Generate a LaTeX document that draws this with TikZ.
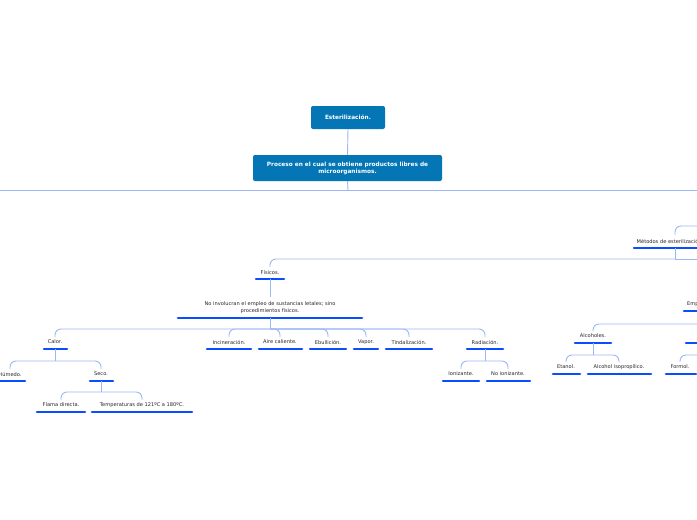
\documentclass[tikz,border=0pt]{standalone}
\usepackage{fontspec}
\setmainfont{DejaVu Sans}
\begin{document}
\begin{tikzpicture}[x=1pt,y=-1pt,
  conn/.style={draw=cl,line width=0.9pt,rounded corners=6pt},
  ul/.style={draw=ub,line width=2.6pt,line cap=round},
  lbl/.style={font=\fontsize{5.1}{6.5}\selectfont,text=black!85,inner sep=0pt,align=center},
  box/.style={fill=bx,rounded corners=2pt,text=white,font=\bfseries\fontsize{5.8}{7}\selectfont,align=center,inner sep=0pt}]
\definecolor{cl}{HTML}{9DB6F6}
\definecolor{ub}{HTML}{0A4DFF}
\definecolor{bx}{HTML}{0476B6}
\useasboundingbox (0,0) rectangle (697,520);
\clip (0,0) rectangle (697,520);
\newcommand\topic[6]{% name, x, y(text), text, left, right
  \node[lbl] (#1) at (#2,#3) {#4};
  \draw[ul] (#5,#3+7) -- (#6,#3+7);
  \coordinate (#1-b) at (#2,#3+7);
  \coordinate (#1-t) at (#2,#3-5);}
\newcommand\branch[3]{% parent, branch y, children
  \draw[conn,rounded corners=0] (#1-b) -- (#1-b |- 0,#2);
  \foreach \c in {#3}{\draw[conn] (#1-b |- 0,#2) -| (\c-t);}}
\node[box,minimum width=74pt,minimum height=23pt] (est) at (348,117.5) {Esterilización.};
\node[box,minimum width=189pt,minimum height=26pt] (pro) at (347.5,168) {Proceso en el cual se obtiene productos libres de\\microorganismos.};
\draw[conn] (est.south) -- (pro.north);
\coordinate (L) at (0,190); \coordinate (R) at (697,190);
\draw[conn,rounded corners=0] (pro.south) -- (348,190);
\draw[conn,rounded corners=0] (L) -- (R);
\coordinate (rt) at (697,226);
\topic{met}{670}{241}{Métodos de esterilización.}{634}{705}
\draw[conn] (rt) -| (675,235);
\topic{fis}{270}{272}{Físicos.}{256}{284}
\draw[conn,rounded corners=0] (675,248) -- (675,259) -- (697,259);
\draw[conn] (675,259) -| (fis-t);
\node[lbl,align=center] (noinv) at (270,307.5) {No involucran el empleo de sustancias letales; sino\\procedimientos físicos.};
\draw[ul] (178,318) -- (362,318);
\coordinate (noinv-b) at (270,318);
\coordinate (noinv-t) at (270,297);
\draw[conn] (fis-b) -- (noinv-t);
\topic{cal}{55}{342}{Calor.}{44}{67}
\topic{inc}{229}{342}{Incineración.}{207}{251}
\topic{air}{280}{342}{Aire caliente.}{259}{302}
\topic{ebu}{328}{342}{Ebullición.}{310}{346}
\topic{vap}{366}{342}{Vapor.}{354}{378}
\topic{tin}{409}{342}{Tindalización.}{386}{432}
\topic{rad}{485}{342}{Radiación.}{467}{503}
\branch{noinv}{329}{cal,inc,air,ebu,vap,tin,rad}
\topic{hum}{10}{374}{Húmedo.}{-4}{25}
\topic{sec}{101}{374}{Seco.}{90}{113}
\branch{cal}{361}{hum,sec}
\topic{fla}{61}{405}{Flama directa.}{37}{85}
\topic{tem}{142}{405}{Temperaturas de 121ºC a 180ºC.}{92}{192}
\branch{sec}{392}{fla,tem}
\topic{ion}{461}{374}{Ionizante.}{443}{479}
\topic{noi}{508}{374}{No ionizante.}{487}{530}
\branch{rad}{361}{ion,noi}
\topic{em}{728}{304}{Empleo de sustancias químicas.}{684}{760}
\coordinate (em-b) at (705,311);
\topic{alc}{593}{336}{Alcoholes.}{575}{611}
\topic{ald}{715}{336}{Aldehídos.}{686}{740}
\branch{em}{324}{alc,ald}
\topic{eta}{566}{367}{Etanol.}{553}{580}
\topic{iso}{619}{367}{Alcohol isopropílico.}{588}{651}
\branch{alc}{355}{eta,iso}
\topic{for}{680}{367}{Formol.}{666}{696}
\draw[conn] (705,355) -| (for-t);
\end{tikzpicture}
\end{document}
